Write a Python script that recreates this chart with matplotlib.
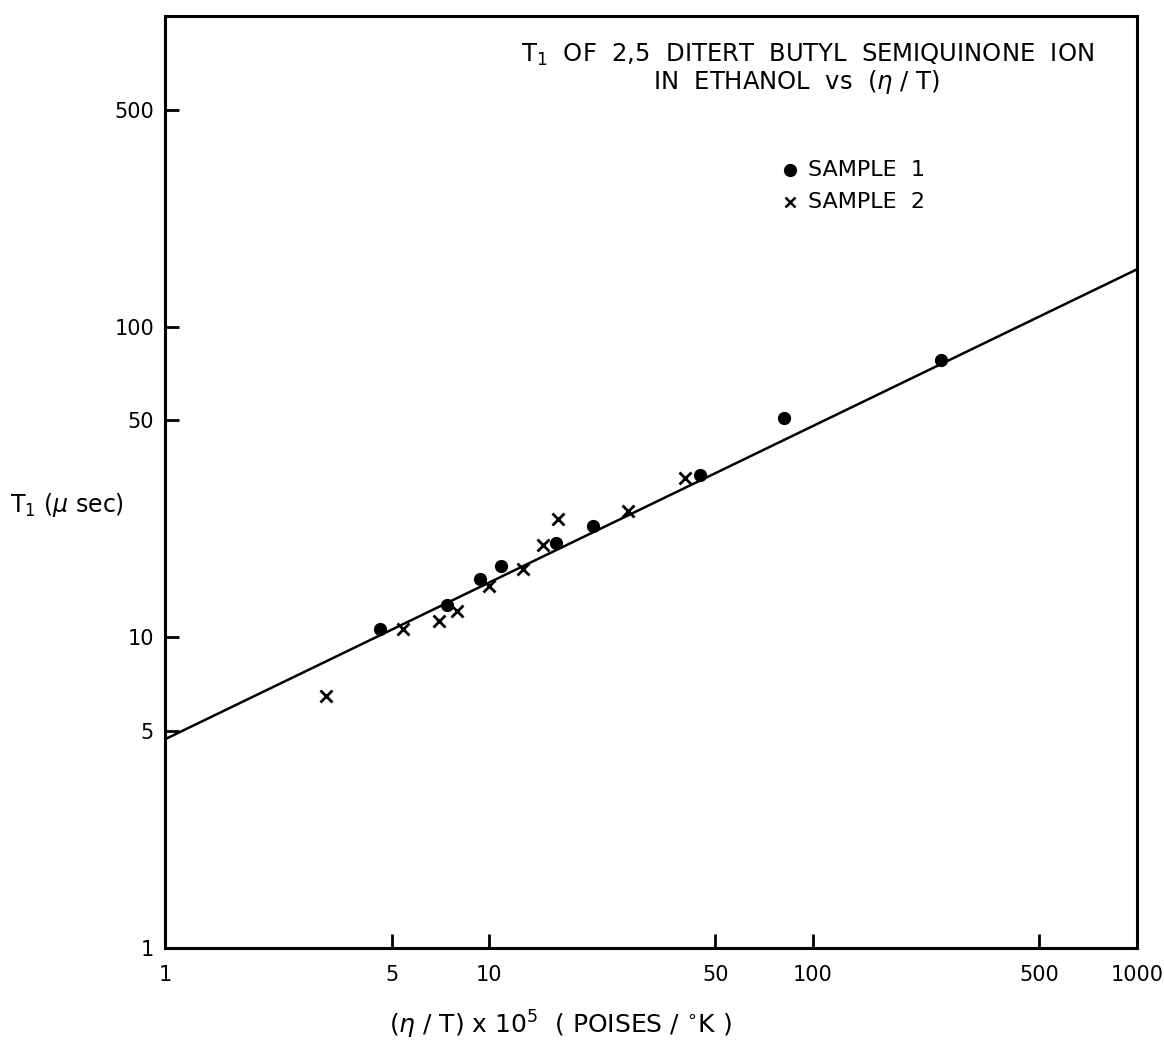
import matplotlib
matplotlib.use("Agg")
import matplotlib.pyplot as plt
import numpy as np

# Sample 1 (dots)
s1_x = [4.6, 7.4, 9.4, 10.9, 16.1, 20.9, 44.8, 81.4, 248]
s1_y = [10.6, 12.7, 15.4, 17.0, 20.1, 22.8, 33.2, 51.0, 78.3]
# Sample 2 (crosses)
s2_x = [3.14, 5.43, 7.0, 7.96, 10.0, 12.7, 14.7, 16.3, 26.9, 40.3]
s2_y = [6.46, 10.6, 11.3, 12.2, 14.6, 16.6, 19.8, 24.1, 25.6, 32.7]
# Fitted line end points
fit_x = [1, 1000]
fit_y = [4.7, 153]

x_ticks = [1, 5, 10, 50, 100, 500, 1000]
x_ticklabels = ["1", "5", "10", "50", "100", "500", "1000"]
y_ticks = [1, 5, 10, 50, 100, 500]
y_ticklabels = ["1", "5", "10", "50", "100", "500"]

plt.rcParams['font.family'] = ['DejaVu Sans']

fig = plt.figure(figsize=(11.64, 10.48), dpi=100)
ax = fig.add_axes([0.1418, 0.0954, 0.9768 - 0.1418, 0.9847 - 0.0954])
ax.set_xscale('log')
ax.set_yscale('log')
ax.set_xlim(1, 1000)
ax.set_ylim(1, 1000)

ax.plot(fit_x, fit_y, color='black', lw=1.8)
ax.plot(s1_x, s1_y, 'o', color='black', ms=8.5, ls='none')
ax.plot(s2_x, s2_y, 'x', color='black', ms=9, mew=2.0, ls='none')

for sp in ax.spines.values():
    sp.set_linewidth(2.2)

ax.minorticks_off()
ax.set_xticks(x_ticks)
ax.set_xticklabels(x_ticklabels)
ax.set_yticks(y_ticks)
ax.set_yticklabels(y_ticklabels)
ax.tick_params(axis='both', direction='in', length=10, width=2, labelsize=15, pad=8)
ax.tick_params(axis='x', pad=12)

ax.text(0.661, 0.958, "T$_1$  OF  2,5  DITERT  BUTYL  SEMIQUINONE  ION",
        transform=ax.transAxes, ha='center', va='center', fontsize=17.5)
ax.text(0.650, 0.929, "IN  ETHANOL  vs  ($\\eta$ / T)",
        transform=ax.transAxes, ha='center', va='center', fontsize=17.5)
ax.plot([0.643], [0.835], 'o', color='black', ms=8.5, transform=ax.transAxes, clip_on=False)
ax.text(0.662, 0.835, "SAMPLE  1", transform=ax.transAxes, ha='left', va='center', fontsize=16)
ax.plot([0.643], [0.800], 'x', color='black', ms=7, mew=1.8, transform=ax.transAxes, clip_on=False)
ax.text(0.662, 0.800, "SAMPLE  2", transform=ax.transAxes, ha='left', va='center', fontsize=16)

fig.text(10 / 1164, 1 - 505 / 1048, "T$_1$ ($\\mu$ sec)", ha='left', va='center', fontsize=17)
fig.text(560 / 1164, 1 - 1025 / 1048, "($\\eta$ / T) x 10$^5$  ( POISES / $^{\\circ}$K )",
         ha='center', va='center', fontsize=18)

fig.savefig("out.png", dpi=100, facecolor='white')
